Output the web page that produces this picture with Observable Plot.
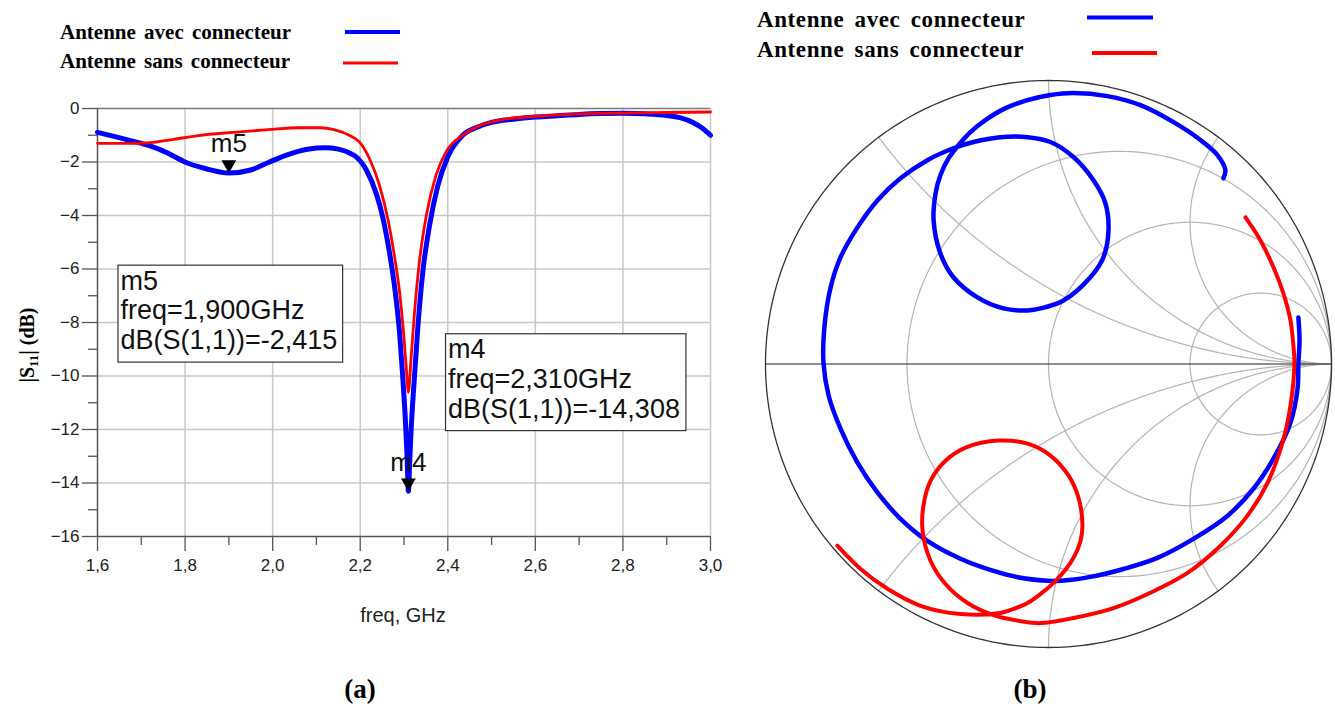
<!DOCTYPE html>
<html><head><meta charset="utf-8">
<script src="https://cdn.jsdelivr.net/npm/d3@7"></script>
<script src="https://cdn.jsdelivr.net/npm/@observablehq/plot@0.6"></script>
<style>
body{margin:0;background:#fff;}
#page{position:relative;width:1335px;height:707px;overflow:hidden;background:#fff;}
#page > div{position:absolute;}
#overlay{position:absolute;left:0;top:0;}
</style></head>
<body><div id="page"><div id="pa" style="left:0;top:90px"></div><div id="pb" style="left:755px;top:70px"></div></div>
<script>
// ---------- DATA ----------
const seriesNames = ["Antenne avec connecteur", "Antenne sans connecteur"];

// (a) |S11| in dB vs frequency (GHz)
const freqBlue = [1.60,1.64,1.68,1.72,1.76,1.80,1.85,1.90,1.95,1.99,2.03,2.08,2.12,2.15,2.18,2.19,2.214,2.237,2.252,2.267,2.278,2.29,2.297,2.303,2.307,2.31,2.313,2.316,2.324,2.332,2.343,2.358,2.377,2.40,2.434,2.47,2.50,2.55,2.60,2.65,2.70,2.75,2.80,2.85,2.90,2.93,2.96,2.98,3.00];
const s11Blue  = [-0.89,-1.05,-1.22,-1.40,-1.66,-2.00,-2.26,-2.415,-2.30,-2.02,-1.75,-1.52,-1.47,-1.52,-1.70,-1.80,-2.30,-3.20,-4.10,-5.40,-6.60,-8.40,-10.0,-11.6,-13.0,-14.308,-13.2,-12.1,-10.0,-8.1,-6.1,-4.4,-2.9,-1.8,-1.0,-0.68,-0.52,-0.40,-0.32,-0.27,-0.22,-0.19,-0.18,-0.20,-0.26,-0.34,-0.52,-0.72,-1.0];
const freqRed  = [1.60,1.68,1.72,1.77,1.83,1.91,1.99,2.06,2.11,2.14,2.176,2.198,2.221,2.244,2.263,2.278,2.29,2.299,2.306,2.31,2.316,2.324,2.335,2.351,2.373,2.396,2.434,2.47,2.53,2.60,2.65,2.70,2.80,2.90,3.00];
const s11Red   = [-1.30,-1.30,-1.28,-1.16,-1.01,-0.89,-0.79,-0.72,-0.72,-0.79,-1.01,-1.25,-1.87,-2.87,-4.12,-5.5,-6.87,-8.37,-9.87,-10.6,-9.37,-7.62,-5.75,-4.0,-2.5,-1.62,-1.0,-0.66,-0.40,-0.29,-0.24,-0.20,-0.17,-0.15,-0.13];
const xTicks = [1.6,1.8,2.0,2.2,2.4,2.6,2.8,3.0];
const xMinor = [1.7,1.9,2.1,2.3,2.5,2.7,2.9];
const yTicks = [0,-2,-4,-6,-8,-10,-12,-14,-16];
const yMinor = [-1,-3,-5,-7,-9,-11,-13,-15];
const markerNames = ["m5","m4"];
const markerFreq = [1.900, 2.310];
const markerDb = [-2.415, -14.308];

// (b) Smith chart, reflection coefficient (real, imaginary)
const gBlueRe = [0.883,0.887,0.883,0.880,0.855,0.795,0.724,0.633,0.512,0.385,0.265,0.148,0.032,-0.099,-0.194,-0.311,-0.428,-0.523,-0.604,-0.675,-0.735,-0.777,-0.795,-0.792,-0.770,-0.735,-0.675,-0.604,-0.523,-0.428,-0.336,-0.265,-0.170,-0.074,0.007,0.088,0.159,0.201,0.212,0.194,0.148,0.053,-0.028,-0.074,-0.159,-0.251,-0.336,-0.382,-0.406,-0.399,-0.382,-0.353,-0.318,-0.276,-0.223,-0.159,-0.074,0.007,0.088,0.208,0.325,0.442,0.537,0.597,0.625,0.618];
const gBlueIm = [0.164,0.083,0.002,-0.087,-0.207,-0.334,-0.440,-0.535,-0.617,-0.684,-0.723,-0.751,-0.765,-0.754,-0.730,-0.687,-0.624,-0.546,-0.454,-0.348,-0.228,-0.111,0.002,0.129,0.270,0.376,0.482,0.578,0.655,0.719,0.761,0.783,0.800,0.800,0.783,0.730,0.648,0.567,0.472,0.376,0.306,0.224,0.196,0.189,0.196,0.235,0.306,0.390,0.507,0.602,0.666,0.726,0.772,0.818,0.860,0.899,0.931,0.949,0.956,0.945,0.913,0.853,0.790,0.737,0.684,0.655];
const gRedRe = [0.696,0.749,0.795,0.830,0.855,0.866,0.869,0.855,0.827,0.774,0.703,0.608,0.491,0.360,0.230,0.088,-0.028,-0.099,-0.194,-0.286,-0.364,-0.417,-0.445,-0.442,-0.417,-0.364,-0.293,-0.177,-0.074,0.007,0.071,0.106,0.120,0.113,0.092,0.060,0.018,-0.028,-0.074,-0.124,-0.170,-0.311,-0.452,-0.569,-0.664,-0.746];
const gRedIm = [0.517,0.436,0.341,0.249,0.154,0.058,0.002,-0.147,-0.277,-0.419,-0.535,-0.641,-0.737,-0.807,-0.861,-0.896,-0.914,-0.907,-0.886,-0.843,-0.776,-0.694,-0.588,-0.500,-0.412,-0.341,-0.295,-0.270,-0.281,-0.323,-0.394,-0.472,-0.571,-0.624,-0.677,-0.726,-0.772,-0.811,-0.843,-0.864,-0.878,-0.882,-0.853,-0.793,-0.723,-0.641];
const rCircles = [1/3, 1, 3];
const xArcs = [0.5, 1, 2, -0.5, -1, -2];

// ---------- STYLE ----------
const BLUE = "#0000ff", RED = "#ff0000";
const sans = "'Liberation Sans', Arial, sans-serif";
const serif = "'Liberation Serif', 'Times New Roman', serif";

// ---------- PANEL (a) ----------
const blueA = freqBlue.map((f,i)=>({f, db:s11Blue[i]}));
const redA = freqRed.map((f,i)=>({f, db:s11Red[i]}));
const markers = markerNames.map((n,i)=>({name:n, freq:markerFreq[i], db:markerDb[i]}));
const c3 = d => d.toFixed(3).replace(".", ",");
const boxOpts = {
  m5: {x1:1.648, x2:2.161, y1:-9.5, y2:-5.875},
  m4: {x1:2.396, x2:2.945, y1:-12.06, y2:-8.44}
};
const boxes = markers.map(m => ({...m, ...boxOpts[m.name], text:`${m.name}\nfreq=${c3(m.freq)}GHz\ndB(S(1,1))=${c3(m.db)}`}));

const chartA = Plot.plot({
  width:720, height:560, marginLeft:97, marginRight:10, marginTop:18, marginBottom:114,
  style:{fontFamily:sans, background:"transparent", overflow:"visible"},
  x:{domain:[1.6,3.0]}, y:{domain:[-16,0]},
  marks:[
    Plot.gridX(xTicks.slice(1), {stroke:"#c8c8c8", strokeOpacity:1, strokeWidth:1.5}),
    Plot.gridY(yTicks.slice(1,-1), {stroke:"#c8c8c8", strokeOpacity:1, strokeWidth:1.5}),
    Plot.ruleY([0], {stroke:"#7a7a7a", strokeWidth:1.5}),
    Plot.ruleX([1.6], {stroke:"#555", strokeWidth:1.5}),
    Plot.ruleY([-16], {stroke:"#555", strokeWidth:1.5}),
    Plot.axisX(xTicks, {tickSize:15, tickPadding:7, tickFormat:d=>d.toFixed(1).replace(".", ","), fontSize:17, stroke:"#555", strokeWidth:1.3, fill:"#222", label:null}),
    Plot.axisX(xMinor, {tickSize:9, tickFormat:()=>"", stroke:"#555", strokeWidth:1.3, label:null}),
    Plot.axisY(yTicks, {tickSize:15, tickPadding:3, fontSize:17, stroke:"#555", strokeWidth:1.3, fill:"#222", label:null}),
    Plot.axisY(yMinor, {tickSize:9, tickFormat:()=>"", stroke:"#555", strokeWidth:1.3, label:null}),
    Plot.rect(boxes, {x1:"x1", x2:"x2", y1:"y1", y2:"y2", fill:"white", stroke:"#333", strokeWidth:1.2}),
    Plot.text(boxes, {x:"x1", y:"y2", text:"text", textAnchor:"start", lineAnchor:"top", dx:2, dy:3, fontSize:27, lineHeight:1.1, fill:"#111"}),
    Plot.line(blueA, {x:"f", y:"db", stroke:BLUE, strokeWidth:5, curve:"monotone-x"}),
    Plot.line(redA, {x:"f", y:"db", stroke:RED, strokeWidth:2.8, curve:"monotone-x"}),
    Plot.dot(markers, {x:"freq", y:"db", symbol:"triangle", rotate:180, r:5.5, fill:"black", stroke:null, dy:-8.5}),
    Plot.text(markers, {x:"freq", y:"db", text:"name", dy:-29, fontSize:26, fill:"#111"})
  ]
});
document.getElementById("pa").appendChild(chartA);

// ---------- PANEL (b) Smith chart ----------
function zToGamma(a,b){const D=(a+1)*(a+1)+b*b; return [(a*a+b*b-1)/D, 2*b/D];}
const gridPts = [];
rCircles.forEach((r,k)=>{
  const c=r/(1+r), R=1/(1+r);
  d3.range(0,361).forEach(i=>{const t=i*Math.PI/180; gridPts.push({id:"r"+k, u:c+R*Math.cos(t), v:R*Math.sin(t)});});
});
xArcs.forEach((x,k)=>{
  d3.range(0,1,0.002).forEach(t=>{const [u,v]=zToGamma(t/(1-t), x); gridPts.push({id:"x"+k, u, v});});
});
const unit = d3.range(0,361).map(i=>({u:Math.cos(i*Math.PI/180), v:Math.sin(i*Math.PI/180)}));
const blueB = gBlueRe.map((u,i)=>({u, v:gBlueIm[i]}));
const redB = gRedRe.map((u,i)=>({u, v:gRedIm[i]}));

const chartB = Plot.plot({
  width:580, height:590, marginLeft:10, marginRight:4, marginTop:10, marginBottom:13,
  style:{background:"transparent", overflow:"visible"},
  x:{domain:[-1,1], axis:null}, y:{domain:[-1,1], axis:null},
  marks:[
    Plot.line(gridPts, {x:"u", y:"v", z:"id", stroke:"#b4b4b4", strokeWidth:1.2}),
    Plot.line(unit, {x:"u", y:"v", stroke:"#333", strokeWidth:1.3}),
    Plot.ruleY([0], {x1:-1, x2:1, stroke:"#222", strokeWidth:1.2}),
    Plot.line(blueB, {x:"u", y:"v", stroke:BLUE, strokeWidth:4.5, curve:"catmull-rom"}),
    Plot.line(redB, {x:"u", y:"v", stroke:RED, strokeWidth:4, curve:"catmull-rom"})
  ]
});
document.getElementById("pb").appendChild(chartB);

// ---------- legends, labels, captions ----------
const svg = d3.select("#page").append("svg").attr("id","overlay").attr("width",1335).attr("height",707);
const legA = [{y:39, ly:32, x1:345, x2:400, w:4}, {y:68, ly:63, x1:343, x2:398, w:3}];
const legB = [{y:27, ly:17.5, x1:1087, x2:1153, w:4}, {y:57, ly:53, x1:1092, x2:1157, w:4}];
const cols = [BLUE, RED];
legA.forEach((p,i)=>{
  svg.append("text").attr("x",60).attr("y",p.y).attr("font-family",serif).attr("font-weight","bold").attr("font-size",21).attr("word-spacing",3).text(seriesNames[i]);
  svg.append("line").attr("x1",p.x1).attr("x2",p.x2).attr("y1",p.ly).attr("y2",p.ly).attr("stroke",cols[i]).attr("stroke-width",p.w);
});
legB.forEach((p,i)=>{
  svg.append("text").attr("x",757).attr("y",p.y).attr("font-family",serif).attr("font-weight","bold").attr("font-size",23).attr("letter-spacing",0.6).attr("word-spacing",4).text(seriesNames[i]);
  svg.append("line").attr("x1",p.x1).attr("x2",p.x2).attr("y1",p.ly).attr("y2",p.ly).attr("stroke",cols[i]).attr("stroke-width",p.w);
});
const yl = svg.append("text").attr("transform","translate(34,345) rotate(-90)").attr("text-anchor","middle")
  .attr("font-family",serif).attr("font-weight","bold").attr("font-size",20);
yl.append("tspan").text("|S");
yl.append("tspan").attr("font-size",13).attr("dy",4).text("11");
yl.append("tspan").attr("dy",-4).text("| (dB)");
svg.append("text").attr("x",403).attr("y",622).attr("text-anchor","middle").attr("font-family",sans).attr("font-size",20).attr("fill","#222").text("freq, GHz");
svg.append("text").attr("x",360).attr("y",698).attr("text-anchor","middle").attr("font-family",serif).attr("font-weight","bold").attr("font-size",27).text("(a)");
svg.append("text").attr("x",1030).attr("y",698).attr("text-anchor","middle").attr("font-family",serif).attr("font-weight","bold").attr("font-size",27).text("(b)");
</script>
</body></html>
